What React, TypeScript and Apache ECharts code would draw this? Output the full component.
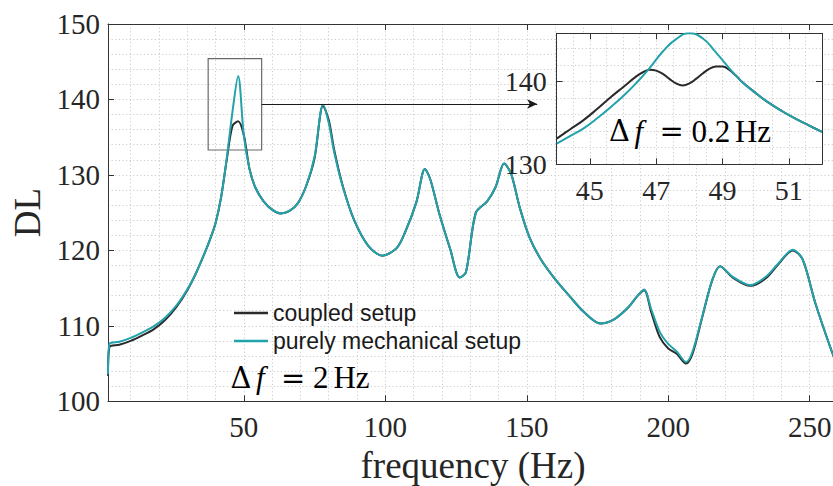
import React, { useEffect, useRef } from 'react';
import * as echarts from 'echarts';

// ---- main spectrum (Δf = 2 Hz) : [frequency Hz, DL] ----
const mechMain: number[][] = [
  [2, 103.6], [2.5, 107.6], [6, 107.9], [10, 108.4], [14, 109.1], [18, 109.9], [22, 111.0], [26, 112.6],
  [30, 114.8], [33, 116.9], [36, 119.5], [38, 121.4], [40, 123.6], [42, 127.1], [44, 132.3], [46, 138.4],
  [48, 143.1], [50, 135.2], [52, 130.8], [54, 128.4], [57, 126.5], [60, 125.4], [63, 124.9], [66, 125.2],
  [69, 126.2], [72, 128.5], [75, 132.4], [78, 139.3], [80, 136.9], [82, 132.9], [85, 128.4], [89, 124.0],
  [94, 120.6], [99, 119.3], [104, 120.3], [107, 122.4], [111, 126.4], [114, 130.8], [116, 129.3], [119, 125.0],
  [123, 120.1], [126.3, 116.4], [128.5, 117.1], [132, 125.0], [136, 126.5], [139, 128.4], [142, 131.5],
  [144.5, 130.1], [147.5, 125.7], [151, 121.7], [155, 118.8], [160, 116.2], [165, 114.0], [170, 111.9],
  [176, 110.3], [181, 110.9], [186, 112.5], [189, 113.9], [191.5, 114.8], [194, 112.2], [197, 109.2],
  [200, 107.6], [203, 106.6], [206.3, 105.2], [208.5, 106.5], [212, 111.2], [215.5, 116.0], [218.3, 117.9],
  [222.8, 116.5], [229, 115.4], [234.5, 116.5], [239, 118.3], [244, 120.1], [247.5, 118.8], [252, 113.0],
  [258, 106.4], [260, 104.6]
];
const coupledMain: number[][] = [
  [2, 103.4], [2.5, 107.2], [6, 107.5], [10, 108.0], [14, 108.7], [18, 109.5], [22, 110.7], [26, 112.4],
  [30, 114.7], [33, 116.9], [36, 119.5], [38, 121.4], [40, 123.6], [42, 127.1], [44, 132.1], [46, 136.5],
  [48, 137.1], [50, 135.3], [52, 130.8], [54, 128.4], [57, 126.5], [60, 125.4], [63, 124.9], [66, 125.2],
  [69, 126.2], [72, 128.5], [75, 132.2], [78, 139.2], [80, 137.3], [82, 133.2], [85, 128.5], [89, 124.0],
  [94, 120.6], [99, 119.3], [104, 120.3], [107, 122.4], [111, 126.4], [114, 130.8], [116, 129.3], [119, 125.0],
  [123, 120.1], [126.3, 116.4], [128.5, 117.1], [132, 125.0], [136, 126.5], [139, 128.4], [142, 131.5],
  [144.5, 130.1], [147.5, 125.7], [151, 121.7], [155, 118.8], [160, 116.2], [165, 114.0], [170, 111.9],
  [176, 110.3], [181, 110.9], [186, 112.5], [189, 113.9], [191.5, 114.7], [194, 111.8], [197, 108.5],
  [200, 107.0], [203, 106.3], [206.3, 105.0], [208.5, 106.2], [212, 111.1], [215.5, 116.0], [218.3, 117.9],
  [222.8, 116.4], [229, 115.3], [234.5, 116.3], [239, 118.2], [244, 120.0], [247.5, 118.8], [252, 113.0],
  [258, 106.4], [260, 104.6]
];

// ---- zoomed spectrum (Δf = 0.2 Hz) ----
const mechZoom: number[][] = [
  [44, 132.5], [44.4, 133.4], [44.8, 134.3], [45.2, 135.5], [45.6, 136.8], [46, 138.2], [46.4, 139.8],
  [46.8, 141.6], [47.2, 143.6], [47.6, 145.1], [48, 145.8], [48.4, 145.2], [48.8, 143.5], [49.2, 141.6],
  [49.6, 139.9], [50, 138.6], [50.4, 137.4], [50.8, 136.4], [51.2, 135.5], [51.6, 134.7], [52, 133.9]
];
const coupledZoom: number[][] = [
  [44, 133.1], [44.4, 134.2], [44.8, 135.3], [45.2, 136.6], [45.6, 138.0], [46, 139.3], [46.4, 140.6],
  [46.6, 141.1], [46.8, 141.4], [47.0, 141.3], [47.2, 140.9], [47.4, 140.3], [47.6, 139.75], [47.8, 139.5],
  [48.0, 139.75], [48.2, 140.3], [48.4, 140.95], [48.6, 141.5], [48.8, 141.8], [49.0, 141.8], [49.2, 141.4],
  [49.4, 140.7], [49.6, 139.9], [50, 138.6], [50.4, 137.4], [50.8, 136.4], [51.2, 135.5], [51.6, 134.7],
  [52, 133.9]
];

const mainXLabels = [50, 100, 150, 200, 250];
const zoomXTicks = [45, 47, 49, 51];
const zoomYLabels = [130, 140];
const zoomMarkers = [47, 49];
const zoomBox = [[37.4, 133.3], [56.3, 145.4]];
const arrowPath = [[56.3, 139.4], [153.7, 139.4]];
const seriesNames = ['coupled setup', 'purely mechanical setup'];

const BLACK = '#2a2a2a';
const TEAL = '#22a2aa';
const AXIS = '#333333';
const SERIF = 'Liberation Serif';
const dotted = { color: '#cdcdcd', width: 1, type: [1.2, 2.4] as any };

export default function App() {
  const ref = useRef<HTMLDivElement>(null);
  useEffect(() => {
    const chart = echarts.init(ref.current!, undefined, { renderer: 'svg', width: 833, height: 486 });
    const tickLabel = { fontFamily: SERIF, fontSize: 29, color: '#262626' };
    const axisLine = { show: true, lineStyle: { color: AXIS, width: 1 } };
    const tickIn = { show: true, inside: true, length: 6, lineStyle: { color: AXIS, width: 1 } };
    const hiddenGridAxis = {
      axisLine: { show: false }, axisTick: { show: false }, axisLabel: { show: false },
      splitLine: { show: true, lineStyle: dotted }
    };
    const mathRich = (num: string, numW: number) => ({
      text: `{d|Δ}{f|f}{e|=}{n|${num}}{u|Hz}`,
      rich: {
        d: { fontFamily: 'DejaVu Serif', fontSize: 29, width: 25.5, color: '#111' },
        f: { fontFamily: SERIF, fontStyle: 'italic', fontSize: 31, width: 25, color: '#111' },
        e: { fontFamily: 'DejaVu Serif', fontSize: 29, width: 32, color: '#111' },
        n: { fontFamily: SERIF, fontSize: 31, width: numW, color: '#111' },
        u: { fontFamily: SERIF, fontSize: 31, color: '#111' }
      },
      verticalAlign: 'middle'
    });

    const option: any = {
      animation: false,
      backgroundColor: '#ffffff',
      grid: [
        { left: 108, top: 24, right: -5, bottom: 84.7, show: false, outerBoundsMode: 'none', containLabel: false },
        { left: 556.7, top: 33.3, width: 265.3, height: 131, show: true, backgroundColor: '#ffffff', borderWidth: 0, z: 10, outerBoundsMode: 'none', containLabel: false }
      ],
      legend: {
        data: seriesNames,
        orient: 'vertical', left: 229, top: 296.5,
        icon: 'rect', itemWidth: 34, itemHeight: 2.5, itemGap: 5,
        selectedMode: false,
        textStyle: { fontFamily: 'Liberation Sans', fontSize: 23, color: '#1a1a1a', lineHeight: 23 }
      },
      xAxis: [
        {
          gridIndex: 0, type: 'value', position: 'bottom', min: 2, max: 260, splitNumber: 5,
          axisLine, axisTick: tickIn, splitLine: { show: false },
          axisLabel: {
            ...tickLabel, margin: 11, showMinLabel: false, showMaxLabel: false,
            formatter: (v: number) => (mainXLabels.includes(v) ? String(v) : '')
          },
          name: 'frequency (Hz)', nameLocation: 'middle', nameGap: 46,
          nameTextStyle: { fontFamily: SERIF, fontSize: 37, color: '#262626' }
        },
        {
          gridIndex: 0, type: 'value', position: 'top', min: 2, max: 260, splitNumber: 5,
          axisLine, axisTick: tickIn, axisLabel: { show: false }, splitLine: { show: false }
        },
        { gridIndex: 0, type: 'value', position: 'bottom', min: 2, max: 260, splitNumber: 26, ...hiddenGridAxis },
        {
          gridIndex: 1, type: 'value', position: 'bottom', min: 44, max: 52, z: 11,
          axisLine, axisTick: { ...tickIn, customValues: zoomXTicks },
          axisLabel: { ...tickLabel, fontSize: 28, margin: 12, customValues: zoomXTicks },
          splitLine: { show: false }
        },
        {
          gridIndex: 1, type: 'value', position: 'top', min: 44, max: 52, z: 11,
          axisLine, axisTick: { ...tickIn, customValues: zoomXTicks }, axisLabel: { show: false },
          splitLine: { show: false }
        },
        { gridIndex: 1, type: 'value', position: 'bottom', min: 44, max: 52, interval: 0.5, z: 11, ...hiddenGridAxis }
      ],
      yAxis: [
        {
          gridIndex: 0, type: 'value', position: 'left', min: 100, max: 150, interval: 10,
          axisLine, axisTick: tickIn,
          axisLabel: { ...tickLabel, margin: 8 },
          splitLine: { show: true, lineStyle: dotted },
          minorTick: { show: false, splitNumber: 5 },
          minorSplitLine: { show: true, lineStyle: dotted },
          name: 'DL', nameLocation: 'middle', nameGap: 62,
          nameTextStyle: { fontFamily: SERIF, fontSize: 37, color: '#262626' }
        },
        {
          gridIndex: 1, type: 'value', position: 'left', min: 130, max: 145.8, interval: 10, z: 11,
          axisLine, axisTick: tickIn,
          axisLabel: {
            ...tickLabel, fontSize: 28, margin: 10, showMaxLabel: false,
            formatter: (v: number) => (zoomYLabels.includes(v) ? String(v) : '')
          },
          splitLine: { show: false }
        },
        {
          gridIndex: 1, type: 'value', position: 'right', min: 130, max: 145.8, interval: 10, z: 11,
          axisLine, axisTick: tickIn, axisLabel: { show: false }, splitLine: { show: false }
        },
        { gridIndex: 1, type: 'value', position: 'left', min: 130, max: 145.8, interval: 2, z: 11, ...hiddenGridAxis }
      ],
      series: [
        {
          name: seriesNames[0], type: 'line', xAxisIndex: 0, yAxisIndex: 0, data: coupledMain,
          showSymbol: false, smooth: 0.3, itemStyle: { color: BLACK }, lineStyle: { color: BLACK, width: 2 },
          markArea: {
            silent: true,
            itemStyle: { color: 'rgba(0,0,0,0)', borderColor: '#6a6a6a', borderWidth: 1.2 },
            data: [[{ coord: zoomBox[0] }, { coord: zoomBox[1] }]]
          },
          markLine: {
            silent: true, symbol: ['none', 'arrow'], symbolSize: [7, 10],
            lineStyle: { color: '#1a1a1a', width: 1.2, type: 'solid' }, label: { show: false },
            data: [[{ coord: arrowPath[0] }, { coord: arrowPath[1] }]]
          }
        },
        {
          name: seriesNames[1], type: 'line', xAxisIndex: 0, yAxisIndex: 0, data: mechMain,
          showSymbol: false, smooth: 0.3, itemStyle: { color: TEAL }, lineStyle: { color: TEAL, width: 2 }
        },
        {
          name: seriesNames[0], type: 'line', xAxisIndex: 3, yAxisIndex: 1, data: coupledZoom, z: 12,
          showSymbol: false, smooth: 0.4, itemStyle: { color: BLACK }, lineStyle: { color: BLACK, width: 2 },
          markLine: {
            silent: true, symbol: ['none', 'none'],
            lineStyle: { color: '#555', width: 1, type: 'solid' }, label: { show: false },
            data: zoomMarkers.map((x) => ({ xAxis: x }))
          }
        },
        {
          name: seriesNames[1], type: 'line', xAxisIndex: 3, yAxisIndex: 1, data: mechZoom, z: 13,
          showSymbol: false, smooth: 0.5, itemStyle: { color: TEAL }, lineStyle: { color: TEAL, width: 2 }
        }
      ],
      graphic: [
        { type: 'text', x: 230.4, y: 377.8, z: 20, style: mathRich('2', 20.5) },
        { type: 'text', x: 608.9, y: 131.2, z: 20, style: mathRich('0.2', 43.5) }
      ]
    };
    chart.setOption(option);
    return () => chart.dispose();
  }, []);
  return (
    <div
      ref={ref}
      style={{ position: 'fixed', left: 0, top: 0, width: 833, height: 486, background: '#fff', overflow: 'hidden' }}
    />
  );
}
